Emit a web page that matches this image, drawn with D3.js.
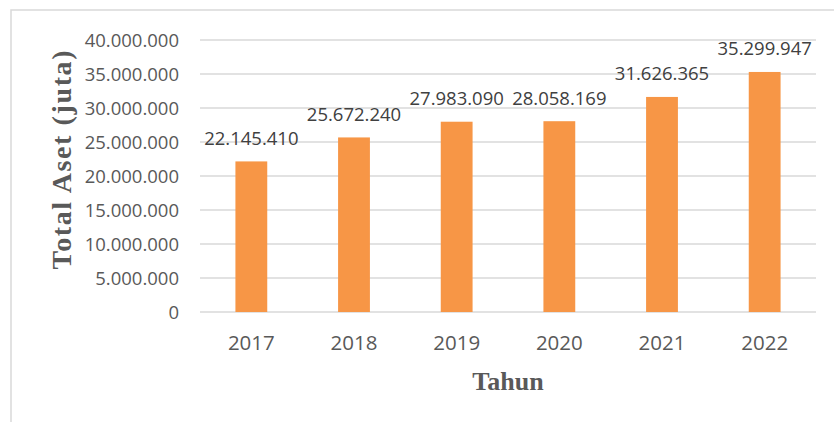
<!DOCTYPE html>
<html><head><meta charset="utf-8">
<script src="https://cdn.jsdelivr.net/npm/d3@7"></script>
<style>body{margin:0;background:#fff}svg{display:block}</style>
</head><body>
<script>
const years = ["2017","2018","2019","2020","2021","2022"];
const totalAset = [22145410, 25672240, 27983090, 28058169, 31626365, 35299947];
const valueLabels = ["22.145.410","25.672.240","27.983.090","28.058.169","31.626.365","35.299.947"];
const yTicks = [0,5000000,10000000,15000000,20000000,25000000,30000000,35000000,40000000];
const yTickLabels = ["0","5.000.000","10.000.000","15.000.000","20.000.000","25.000.000","30.000.000","35.000.000","40.000.000"];
const yTitle = "Total Aset (juta)";
const xTitle = "Tahun";

const W=834,H=422;
const svg=d3.select("body").append("svg").attr("width",W).attr("height",H);
svg.append("rect").attr("x",11).attr("y",10).attr("width",840).attr("height",430)
  .attr("fill","#fff").attr("stroke","#d9d9d9").attr("stroke-width",1.5);

const x=d3.scaleBand().domain(years).range([200,816]).paddingInner(0).paddingOuter(0);
const y=d3.scaleLinear().domain([0,40000000]).range([312,40]);
const font="'Open Sans', sans-serif";

svg.append("g").selectAll("line").data(yTicks).join("line")
  .attr("x1",200).attr("x2",816).attr("y1",d=>y(d)).attr("y2",d=>y(d))
  .attr("stroke","#d9d9d9").attr("stroke-width",1.6);

svg.append("g").selectAll("text").data(yTicks).join("text")
  .attr("x",179).attr("y",d=>y(d)+6.5).attr("text-anchor","end")
  .attr("font-family",font).attr("font-size",18.5).attr("fill","#595959")
  .text((d,i)=>yTickLabels[i]);

const bw=x.bandwidth()*0.31;
svg.append("g").selectAll("rect").data(totalAset).join("rect")
  .attr("x",(d,i)=>x(years[i])+x.bandwidth()/2-bw/2).attr("width",bw)
  .attr("y",d=>y(d)).attr("height",d=>y(0)-y(d)).attr("fill","#F79646");

svg.append("g").selectAll("text").data(totalAset).join("text")
  .attr("x",(d,i)=>x(years[i])+x.bandwidth()/2).attr("y",d=>y(d)-16.5)
  .attr("text-anchor","middle").attr("font-family",font).attr("font-size",18.5).attr("fill","#404040")
  .text((d,i)=>valueLabels[i]);

svg.append("g").selectAll("text").data(years).join("text")
  .attr("x",d=>x(d)+x.bandwidth()/2).attr("y",350).attr("text-anchor","middle")
  .attr("font-family",font).attr("font-size",20.5).attr("fill","#595959").text(d=>d);

svg.append("text").attr("x",508).attr("y",390).attr("text-anchor","middle")
  .attr("font-family","'Liberation Serif', 'Times New Roman', serif").attr("font-weight","bold")
  .attr("font-size",26).attr("fill","#595959").text(xTitle);

svg.append("text").attr("transform","translate(71,160) rotate(-90)").attr("text-anchor","middle")
  .attr("font-family","'Liberation Serif', 'Times New Roman', serif").attr("font-weight","bold")
  .attr("font-size",28).attr("fill","#595959")
  .attr("textLength",219).attr("lengthAdjust","spacing").text(yTitle);
</script>
</body></html>
